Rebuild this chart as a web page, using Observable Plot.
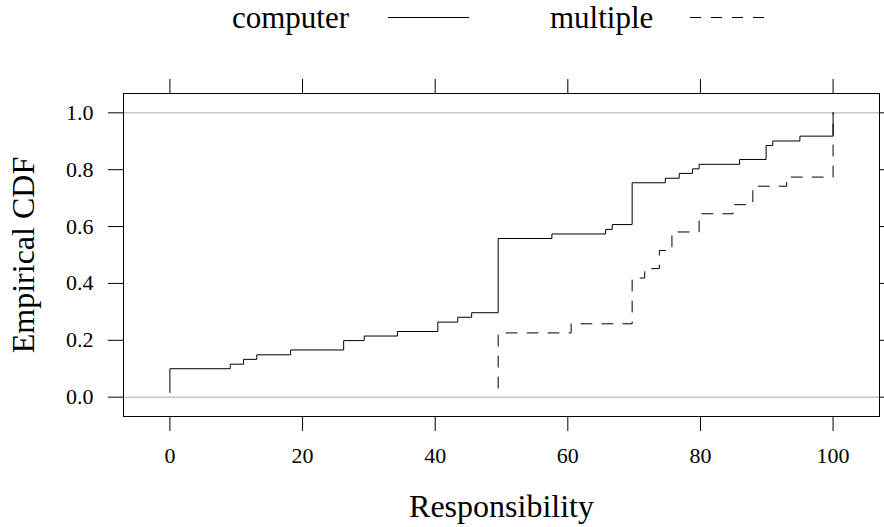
<!DOCTYPE html>
<html>
<head>
<meta charset="utf-8">
<script src="https://cdn.jsdelivr.net/npm/d3@7"></script>
<script src="https://cdn.jsdelivr.net/npm/@observablehq/plot@0.6"></script>
<style>
  html, body { margin: 0; padding: 0; background: #fff; }
  #chart { width: 884px; font-family: "Liberation Serif", serif; }
  #legend { position: relative; width: 884px; height: 50px; }
  #legend .lab { position: absolute; top: 0; font-size: 31px; line-height: normal; white-space: nowrap; color: #000; }
  #legend svg { position: absolute; top: 0; left: 0; }
</style>
</head>
<body>
<div id="chart"></div>
<script>
// Series names and legend labels
const seriesNames = ["computer", "multiple"];

// "computer" empirical CDF step points (Responsibility, cumulative proportion)
const computerX = [0, 0, 9.1, 11.1, 13.1, 18.2, 26.2, 29.3, 34.3, 40.4, 43.4, 45.5, 49.5, 57.6, 65.7, 66.7, 69.7, 74.7, 76.8, 78.8, 79.8, 85.9, 89.9, 90.9, 95.0, 100];
const computerY = [0.016, 0.100, 0.116, 0.133, 0.149, 0.166, 0.199, 0.215, 0.231, 0.264, 0.281, 0.297, 0.558, 0.574, 0.590, 0.607, 0.754, 0.770, 0.787, 0.803, 0.819, 0.836, 0.885, 0.901, 0.918, 1.000];

// "multiple" empirical CDF step points
const multipleX = [49.5, 49.5, 60.5, 69.7, 71.6, 73.8, 75.7, 79.8, 84.9, 87.9, 93.0, 100];
const multipleY = [0.032, 0.226, 0.258, 0.419, 0.452, 0.516, 0.581, 0.645, 0.677, 0.742, 0.774, 1.000];

// Axis ticks and titles
const xTicks = [0, 20, 40, 60, 80, 100];
const yTicks = [0, 0.2, 0.4, 0.6, 0.8, 1.0];
const refLines = [0, 1];
const xTitle = "Responsibility";
const yTitle = "Empirical CDF";

const computer = computerX.map((x, i) => ({x, y: computerY[i]}));
const multiple = multipleX.map((x, i) => ({x, y: multipleY[i]}));

const chart = document.getElementById("chart");

// Legend (HTML, above the plot SVG)
const legend = document.createElement("div");
legend.id = "legend";
const ns = "http://www.w3.org/2000/svg";
const swatches = document.createElementNS(ns, "svg");
swatches.setAttribute("width", 884);
swatches.setAttribute("height", 50);
legend.appendChild(swatches);
const legendItems = [
  {name: seriesNames[0], tx: 232, x1: 388, x2: 469, dash: null},
  {name: seriesNames[1], tx: 550, x1: 690, x2: 765, dash: "11,10"}
];
for (const it of legendItems) {
  const s = document.createElement("span");
  s.className = "lab";
  s.style.left = it.tx + "px";
  s.textContent = it.name;
  legend.appendChild(s);
  const l = document.createElementNS(ns, "line");
  l.setAttribute("x1", it.x1);
  l.setAttribute("x2", it.x2);
  l.setAttribute("y1", 17.5);
  l.setAttribute("y2", 17.5);
  l.setAttribute("stroke", "#000");
  l.setAttribute("stroke-width", 1);
  if (it.dash) l.setAttribute("stroke-dasharray", it.dash);
  swatches.appendChild(l);
}
chart.appendChild(legend);

const plot = Plot.plot({
  width: 884,
  height: 477,
  marginTop: 43,
  marginLeft: 123,
  marginRight: 5,
  marginBottom: 111,
  style: {fontFamily: '"Liberation Serif", serif', fontSize: "22px", background: "#fff", color: "#000", display: "block"},
  x: {domain: [-7, 107]},
  y: {domain: [-0.068, 1.068]},
  marks: [
    Plot.ruleY(refLines, {stroke: "#aaa", strokeWidth: 1}),
    Plot.line(computer, {x: "x", y: "y", curve: "step-after", stroke: "#000", strokeWidth: 1}),
    Plot.line(multiple, {x: "x", y: "y", curve: "step-after", stroke: "#000", strokeWidth: 1, strokeDasharray: "11,10"}),
    Plot.frame({stroke: "#000", strokeWidth: 1}),
    Plot.axisX({anchor: "bottom", ticks: xTicks, tickSize: 15, tickPadding: 16, label: null, fontSize: 22}),
    Plot.axisX({anchor: "top", ticks: xTicks, tickSize: 15, fill: "none", label: null}),
    Plot.axisY({anchor: "left", ticks: yTicks, tickSize: 15, tickPadding: 15, tickFormat: d3.format(".1f"), label: null, fontSize: 22}),
    Plot.axisY({anchor: "right", ticks: yTicks, tickSize: 15, fill: "none", label: null}),
    Plot.text([xTitle], {frameAnchor: "bottom", dy: 100, lineAnchor: "bottom", textAnchor: "middle", fontSize: 32, text: d => d}),
    Plot.text([yTitle], {frameAnchor: "left", dx: -90, rotate: -90, lineAnchor: "bottom", textAnchor: "middle", fontSize: 32, text: d => d})
  ]
});
chart.appendChild(plot);
</script>
</body>
</html>
